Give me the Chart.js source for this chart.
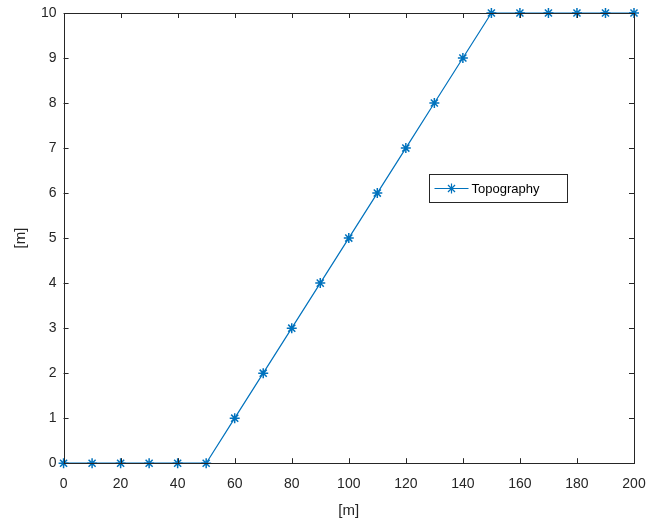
<!DOCTYPE html>
<html>
<head>
<meta charset="utf-8">
<script src="https://cdn.jsdelivr.net/npm/chart.js@4/dist/chart.umd.min.js"></script>
<style>
  html, body { margin: 0; padding: 0; background: #fff; }
</style>
</head>
<body>
<canvas id="topo" width="648" height="524"></canvas>
<script>
// data
var distance = [0, 10, 20, 30, 40, 50, 60, 70, 80, 90, 100, 110, 120, 130, 140, 150, 160, 170, 180, 190, 200];
var elevation = [0, 0, 0, 0, 0, 0, 1, 2, 3, 4, 5, 6, 7, 8, 9, 10, 10, 10, 10, 10, 10];
var xTicks = [0, 20, 40, 60, 80, 100, 120, 140, 160, 180, 200];
var yTicks = [0, 1, 2, 3, 4, 5, 6, 7, 8, 9, 10];
var seriesName = "Topography";

var lineColor = "#0072BD";
var axisColor = "#262626";
var fontFam = "'Liberation Sans', Arial, sans-serif";

// matlab style box with inward ticks + legend box
var matlabBox = {
    id: "matlabBox",
    afterDraw: function (chart) {
        var c = chart.ctx, a = chart.chartArea;
        var xs = chart.scales.x, ys = chart.scales.y;
        c.save();
        c.strokeStyle = axisColor;
        c.lineWidth = 1;
        c.beginPath();
        xTicks.forEach(function (t) {
            var px = Math.round(xs.getPixelForValue(t)) + 0.5;
            c.moveTo(px, a.bottom); c.lineTo(px, a.bottom - 5);
            c.moveTo(px, a.top); c.lineTo(px, a.top + 5);
        });
        yTicks.forEach(function (t) {
            var py = Math.round(ys.getPixelForValue(t)) + 0.5;
            c.moveTo(a.left, py); c.lineTo(a.left + 5, py);
            c.moveTo(a.right, py); c.lineTo(a.right - 5, py);
        });
        c.stroke();
        c.strokeRect(Math.round(a.left) + 0.5, Math.round(a.top) + 0.5,
            Math.round(a.right - a.left), Math.round(a.bottom - a.top));

        // legend
        var lx = 429.5, ly = 174.5, lw = 138, lh = 28;
        c.fillStyle = "#fff";
        c.fillRect(lx, ly, lw, lh);
        c.strokeStyle = axisColor;
        c.strokeRect(lx, ly, lw, lh);
        var my = ly + lh / 2;
        c.strokeStyle = lineColor;
        c.lineWidth = 1.2;
        c.beginPath();
        c.moveTo(lx + 5, my); c.lineTo(lx + 39, my);
        c.stroke();
        Chart.helpers.drawPoint(c, { pointStyle: "star", radius: 5, rotation: 0, borderWidth: 1.5 }, lx + 22, my);
        c.fillStyle = "#000";
        c.font = "13px " + fontFam;
        c.textBaseline = "middle";
        c.fillText(seriesName, lx + 42, my + 1);
        c.restore();
    }
};

var ctx = document.getElementById("topo");
var chart = new Chart(ctx, {
    type: "line",
    data: {
        datasets: [{
            label: seriesName,
            data: distance.map(function (d, i) { return { x: d, y: elevation[i] }; }),
            borderColor: lineColor,
            backgroundColor: lineColor,
            borderWidth: 1.2,
            pointStyle: "star",
            pointRadius: 5,
            pointBorderWidth: 1.5,
            pointBorderColor: lineColor,
            tension: 0,
            clip: false
        }]
    },
    options: {
        responsive: false,
        animation: false,
        layout: { padding: { top: 13, right: 14, left: 6, bottom: 4 } },
        plugins: {
            legend: { display: false },
            tooltip: { enabled: false }
        },
        scales: {
            x: {
                type: "linear",
                min: 0, max: 200,
                afterBuildTicks: function (s) { s.ticks = xTicks.map(function (v) { return { value: v }; }); },
                afterFit: function (s) { s.paddingLeft = 0; s.paddingRight = 0; },
                grid: { display: false, drawTicks: false },
                border: { display: false },
                ticks: { color: axisColor, padding: 13, maxRotation: 0, font: { family: fontFam, size: 14 } },
                title: { display: true, text: "[m]", color: axisColor, padding: { top: -4, bottom: 0 }, font: { family: fontFam, size: 15 } }
            },
            y: {
                type: "linear",
                min: 0, max: 10,
                afterBuildTicks: function (s) { s.ticks = yTicks.map(function (v) { return { value: v }; }); },
                afterFit: function (s) { s.paddingTop = 0; s.paddingBottom = 0; },
                grid: { display: false, drawTicks: false },
                border: { display: false },
                ticks: { color: axisColor, padding: 7, font: { family: fontFam, size: 14 } },
                title: { display: true, text: "[m]", color: axisColor, padding: { top: 6, bottom: 4 }, font: { family: fontFam, size: 15 } }
            }
        }
    },
    plugins: [matlabBox]
});
</script>
</body>
</html>
